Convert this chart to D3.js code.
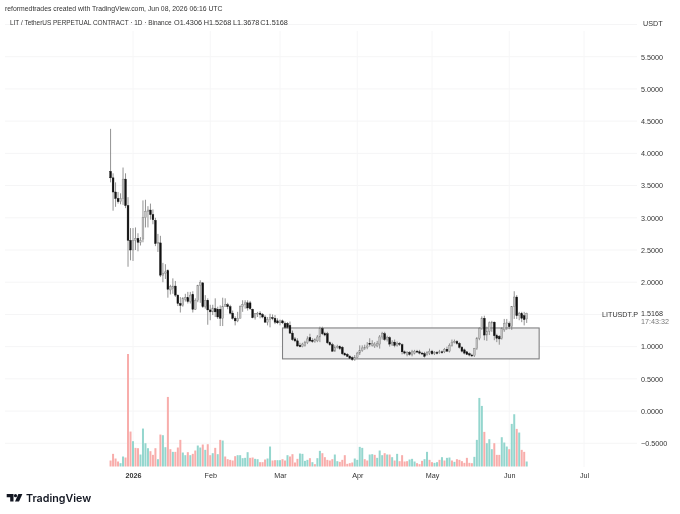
<!DOCTYPE html>
<html>
<head>
<meta charset="utf-8">
<script src="https://cdn.jsdelivr.net/npm/d3@7"></script>
<style>
  html, body { margin: 0; padding: 0; background: #fff; }
  svg { display: block; font-family: "Liberation Sans", sans-serif; filter: blur(0.3px); }
  .axis text { fill: #333; font-size: 7.2px; font-family: "Liberation Sans", sans-serif; }
  .axis line, .axis path { display: none; }
</style>
</head>
<body>
<div id="chart"></div>
<script>
const opens = [
  3.72,3.62,3.40,3.30,3.25,3.30,3.60,3.19,2.65,2.50,
  2.65,2.68,2.62,2.67,3.00,3.10,3.12,3.05,2.96,2.60,
  2.61,2.11,2.14,2.18,1.88,1.90,1.94,1.80,1.67,1.64,
  1.73,1.76,1.70,1.81,1.58,1.72,1.95,1.99,1.62,1.72,
  1.57,1.54,1.59,1.58,1.58,1.44,1.62,1.65,1.62,1.52,
  1.44,1.40,1.44,1.62,1.65,1.68,1.68,1.58,1.45,1.51,
  1.52,1.50,1.46,1.38,1.42,1.45,1.44,1.40,1.37,1.40,
  1.36,1.36,1.33,1.21,1.12,1.09,1.02,1.00,1.02,1.06,
  1.14,1.10,1.08,1.09,1.15,1.28,1.20,1.20,1.06,1.03,
  0.93,0.99,1.00,0.99,0.89,0.88,0.85,0.83,0.80,0.83,
  0.90,0.94,0.97,0.99,1.05,1.02,1.01,1.01,1.04,1.15,
  1.20,1.11,1.14,1.04,1.07,1.02,1.05,1.03,0.92,0.88,
  0.91,0.88,0.90,0.93,0.92,0.90,0.89,0.88,0.90,0.93,
  0.89,0.91,0.91,0.92,0.92,0.96,0.93,1.02,1.07,1.08,
  1.05,0.99,0.95,0.92,0.89,0.87,0.86,0.97,1.13,1.28,
  1.44,1.18,1.24,1.37,1.38,1.17,1.16,1.13,1.26,1.36,
  1.36,1.31,1.62,1.77,1.48,1.51,1.48,1.4306
];
const closes = [
  3.62,3.40,3.30,3.25,3.30,3.60,3.19,2.65,2.50,2.65,
  2.68,2.62,2.65,3.00,3.10,3.12,3.05,2.97,2.60,2.62,
  2.11,2.14,2.16,1.89,1.93,1.94,1.80,1.67,1.64,1.75,
  1.76,1.70,1.80,1.58,1.72,1.95,2.00,1.62,1.72,1.57,
  1.54,1.60,1.54,1.46,1.44,1.62,1.65,1.62,1.52,1.44,
  1.40,1.44,1.62,1.65,1.68,1.60,1.59,1.45,1.51,1.52,
  1.50,1.46,1.38,1.42,1.45,1.44,1.38,1.37,1.40,1.37,
  1.30,1.30,1.21,1.11,1.09,1.01,1.00,1.04,1.06,1.12,
  1.09,1.08,1.11,1.15,1.28,1.20,1.18,1.06,1.03,0.93,
  0.99,1.00,0.97,0.89,0.87,0.85,0.82,0.80,0.83,0.90,
  0.94,0.98,0.99,1.01,1.04,1.05,1.04,1.05,1.15,1.20,
  1.11,1.14,1.04,1.07,1.02,1.05,1.04,0.92,0.90,0.91,
  0.88,0.92,0.93,0.92,0.90,0.89,0.85,0.91,0.93,0.89,
  0.91,0.90,0.92,0.91,0.96,0.93,1.02,1.07,1.08,1.05,
  0.99,0.93,0.90,0.88,0.87,0.86,0.97,1.13,1.28,1.44,
  1.18,1.24,1.37,1.38,1.17,1.13,1.12,1.28,1.36,1.37,
  1.31,1.62,1.77,1.48,1.51,1.44,1.42,1.5168
];
const highs = [
  4.38,3.69,3.55,3.40,3.38,3.78,3.69,3.32,2.84,2.84,
  2.85,2.76,2.70,3.27,3.28,3.18,3.22,3.13,3.00,2.75,
  2.72,2.30,2.28,2.20,1.96,2.06,2.02,1.81,1.77,1.77,
  1.82,1.85,1.85,1.86,1.75,1.96,2.03,2.00,1.80,1.75,
  1.65,1.65,1.75,1.62,1.64,1.76,1.75,1.68,1.65,1.56,
  1.47,1.54,1.64,1.72,1.72,1.72,1.71,1.59,1.52,1.54,
  1.55,1.52,1.49,1.46,1.51,1.50,1.49,1.44,1.42,1.42,
  1.39,1.38,1.39,1.25,1.15,1.13,1.06,1.06,1.09,1.16,
  1.20,1.13,1.13,1.18,1.31,1.31,1.23,1.23,1.08,1.06,
  1.02,1.03,1.02,1.01,0.91,0.90,0.87,0.85,0.87,0.92,
  1.02,1.02,1.03,1.07,1.13,1.10,1.07,1.09,1.18,1.23,
  1.23,1.17,1.16,1.10,1.11,1.08,1.07,1.05,0.94,0.93,
  0.93,0.95,0.95,0.95,0.95,0.92,0.92,0.93,0.97,0.95,
  0.93,0.93,0.95,0.94,0.98,1.00,1.05,1.11,1.11,1.10,
  1.07,1.01,0.97,0.93,0.91,0.89,0.98,1.15,1.30,1.47,
  1.48,1.31,1.39,1.40,1.39,1.20,1.18,1.30,1.43,1.43,
  1.39,1.63,1.86,1.80,1.54,1.54,1.54,1.5268
];
const lows = [
  3.55,3.11,3.17,3.22,3.21,3.20,3.15,2.24,2.34,2.33,
  2.50,2.48,2.57,2.62,2.85,2.85,2.97,2.90,2.56,2.47,
  2.08,2.00,2.05,1.76,1.81,1.82,1.77,1.63,1.53,1.62,
  1.70,1.67,1.67,1.53,1.57,1.69,1.68,1.60,1.59,1.34,
  1.41,1.49,1.46,1.43,1.32,1.32,1.62,1.58,1.50,1.42,
  1.33,1.38,1.44,1.54,1.59,1.56,1.57,1.44,1.42,1.46,
  1.44,1.44,1.37,1.33,1.30,1.41,1.35,1.35,1.33,1.35,
  1.28,1.28,1.20,1.09,1.07,1.00,0.99,0.99,1.00,1.04,
  1.07,1.06,1.06,1.07,1.07,1.18,1.16,1.04,1.01,0.92,
  0.92,0.97,0.95,0.87,0.86,0.84,0.81,0.78,0.78,0.82,
  0.87,0.92,0.95,0.96,1.00,1.00,0.98,0.99,0.97,1.11,
  1.09,1.08,1.00,1.01,0.99,1.00,1.01,0.88,0.88,0.85,
  0.86,0.85,0.88,0.90,0.88,0.87,0.83,0.86,0.87,0.87,
  0.87,0.88,0.89,0.89,0.90,0.92,0.91,1.00,1.05,1.03,
  0.97,0.91,0.88,0.87,0.85,0.84,0.84,0.95,1.10,1.26,
  1.10,1.09,1.18,1.23,1.10,1.07,1.03,1.11,1.23,1.26,
  1.27,1.26,1.43,1.43,1.41,1.38,1.33,1.3678
];
const volumes = [
  18,38,24,15,10,30,27,338,105,76,
  56,55,36,114,70,55,46,35,55,22,
  96,94,58,209,52,44,44,57,80,42,
  34,43,34,38,48,63,57,66,50,67,
  34,40,56,37,80,78,30,22,20,18,
  31,34,34,25,26,43,26,27,23,22,
  13,13,21,24,60,18,19,19,19,22,
  18,34,30,37,12,23,39,38,17,20,
  25,13,7,25,47,40,28,20,18,22,
  36,16,14,20,34,8,10,12,24,20,
  59,56,22,18,36,37,35,26,48,34,
  40,36,36,28,18,38,16,34,15,16,
  21,23,15,10,7,17,22,44,20,13,
  11,13,20,28,18,26,27,18,14,22,
  20,16,11,26,11,10,29,80,206,182,
  104,70,82,52,70,35,35,88,72,60,
  52,128,157,113,102,50,44,15
];
// 1 = red volume bar, 0 = green
const volumeDown = [
  1,1,1,1,0,0,1,1,1,0,
  1,1,0,0,0,0,1,1,1,0,
  1,0,0,1,1,0,1,1,1,0,
  0,1,0,1,1,0,0,1,0,1,
  1,0,1,0,1,0,1,1,1,1,
  1,0,0,0,0,0,1,1,0,0,
  1,1,1,0,0,1,1,0,0,1,
  1,0,1,1,1,1,0,0,0,0,
  1,0,1,0,0,1,1,1,1,1,
  0,0,1,1,1,1,1,1,0,0,
  0,0,1,1,0,0,1,0,0,0,
  1,0,1,0,1,0,1,1,1,1,
  0,0,0,1,1,1,0,0,1,1,
  0,0,1,0,1,0,0,1,0,1,
  1,1,1,1,1,1,0,0,0,0,
  1,0,0,0,1,1,1,0,0,0,
  1,0,0,1,0,1,1,0
];
const priceTicks = [5.5,5,4.5,4,3.5,3,2.5,2,1,0.5,0,-0.5];
const gridPrices = [6,5.5,5,4.5,4,3.5,3,2.5,2,1.5,1,0.5,0,-0.5];
const monthTicks = ["2026-01-01","2026-02-01","2026-03-01","2026-04-01","2026-05-01","2026-06-01","2026-07-01"];
const monthLabels = ["2026","Feb","Mar","Apr","May","Jun","Jul"];
const firstDay = "2025-12-23";
const boxRange = { from: "2026-03-02", to: "2026-06-13", top: 1.29, bottom: 0.81 };
const ohlcLabels = ["O1.4306", "H1.5268", "L1.3678", "C1.5168"];
const lastPrice = 1.5168;

const width = 680, height = 514;
const parse = d3.utcParse("%Y-%m-%d");
const dates = d3.range(opens.length).map(i => d3.utcDay.offset(parse(firstDay), i));

const x = d3.scaleUtc()
  .domain([parse(monthTicks[0]), parse(monthTicks[6])])
  .range([133, 584]);
const y = d3.scaleLinear().domain([-0.5, 5.5]).range([443.3, 56.7]);
const yVol = d3.scaleLinear().domain([0, 338]).range([466.5, 354]);

const svg = d3.select("#chart").append("svg")
  .attr("width", width)
  .attr("height", height);

// grid
svg.append("g").selectAll("line")
  .data(gridPrices)
  .enter().append("line")
  .attr("x1", 5).attr("x2", 637)
  .attr("y1", d => y(d)).attr("y2", d => y(d))
  .attr("stroke", "#f5f5f6");

svg.append("g").selectAll("line")
  .data(monthTicks)
  .enter().append("line")
  .attr("x1", d => x(parse(d))).attr("x2", d => x(parse(d)))
  .attr("y1", 31).attr("y2", 467)
  .attr("stroke", "#f6f6f7");

// box
svg.append("rect")
  .attr("x", x(parse(boxRange.from)))
  .attr("y", y(boxRange.top))
  .attr("width", x(parse(boxRange.to)) - x(parse(boxRange.from)))
  .attr("height", y(boxRange.bottom) - y(boxRange.top))
  .attr("fill", "#eeeeef")
  .attr("stroke", "#808082")
  .attr("stroke-width", 1.1);

// volume
svg.append("g").selectAll("rect")
  .data(volumes)
  .enter().append("rect")
  .attr("x", (d, i) => x(dates[i]) - 1)
  .attr("width", 2)
  .attr("y", d => yVol(d))
  .attr("height", d => yVol(0) - yVol(d))
  .attr("fill", (d, i) => volumeDown[i] ? "#f8adab" : "#94d6ce");

// candles
const candles = svg.append("g");
candles.selectAll("line")
  .data(opens)
  .enter().append("line")
  .attr("x1", (d, i) => x(dates[i])).attr("x2", (d, i) => x(dates[i]))
  .attr("y1", (d, i) => y(highs[i])).attr("y2", (d, i) => y(lows[i]))
  .attr("stroke", "#777")
  .attr("stroke-width", 0.8);

candles.selectAll("rect")
  .data(opens)
  .enter().append("rect")
  .attr("x", (d, i) => x(dates[i]) - 0.9)
  .attr("width", 1.8)
  .attr("y", (d, i) => y(Math.max(d, closes[i])))
  .attr("height", (d, i) => Math.max(0.9, Math.abs(y(d) - y(closes[i]))))
  .attr("fill", (d, i) => closes[i] < d ? "#111" : "#c4c4c4")
  .attr("stroke", (d, i) => closes[i] < d ? "#111" : "#808080")
  .attr("stroke-width", 0.4);

// axes
svg.append("g")
  .attr("class", "axis")
  .attr("transform", "translate(641,0)")
  .call(d3.axisRight(y).tickValues(priceTicks).tickFormat(d3.format(".4f")).tickSize(0).tickPadding(0));

const xAxis = svg.append("g")
  .attr("class", "axis")
  .attr("transform", "translate(0,473)")
  .call(d3.axisBottom(x)
    .tickValues(monthTicks.map(parse))
    .tickFormat((d, i) => monthLabels[i])
    .tickSize(0).tickPadding(0));
xAxis.selectAll("text").filter((d, i) => i === 0).style("font-weight", 700);

// header
svg.append("text").attr("x", 5).attr("y", 10.5)
  .attr("font-size", 6.85).attr("fill", "#333")
  .text("reformedtrades created with TradingView.com, Jun 08, 2026 06:16 UTC");
svg.append("text").attr("x", 10).attr("y", 25)
  .attr("font-size", 6.45).attr("fill", "#333")
  .text("LIT / TetherUS PERPETUAL CONTRACT · 1D · Binance");
svg.append("g").selectAll("text")
  .data(ohlcLabels)
  .enter().append("text")
  .attr("x", (d, i) => [174, 203.7, 233, 260.3][i]).attr("y", 25)
  .attr("font-size", 7.3).attr("fill", "#333")
  .text(d => d);
svg.append("text").attr("x", 643).attr("y", 26)
  .attr("font-size", 7.2).attr("fill", "#333").text("USDT");

// last price label
svg.append("text").attr("x", 602).attr("y", 316.5)
  .attr("font-size", 7.2).attr("fill", "#333").text("LITUSDT.P");
svg.append("text").attr("x", 641).attr("y", y(lastPrice) + 2.5)
  .attr("font-size", 7.2).attr("fill", "#333").text(d3.format(".4f")(lastPrice));
svg.append("text").attr("x", 641).attr("y", 323.5)
  .attr("font-size", 7.2).attr("fill", "#777").text("17:43:32");

// logo
const logo = svg.append("g").attr("fill", "#131722");
logo.append("path").attr("d", "M6.7 494h6.8v7.4h-3.3v-4.1h-3.5z");
logo.append("circle").attr("cx", 15.5).attr("cy", 495.7).attr("r", 1.6);
logo.append("path").attr("d", "M18.4 494h4l-3.4 7.4h-4z");
svg.append("text").attr("x", 26).attr("y", 501.7)
  .attr("font-family", "Inter, sans-serif")
  .attr("font-size", 10.7).attr("font-weight", 600).attr("fill", "#131722")
  .text("TradingView");
</script>
</body>
</html>
